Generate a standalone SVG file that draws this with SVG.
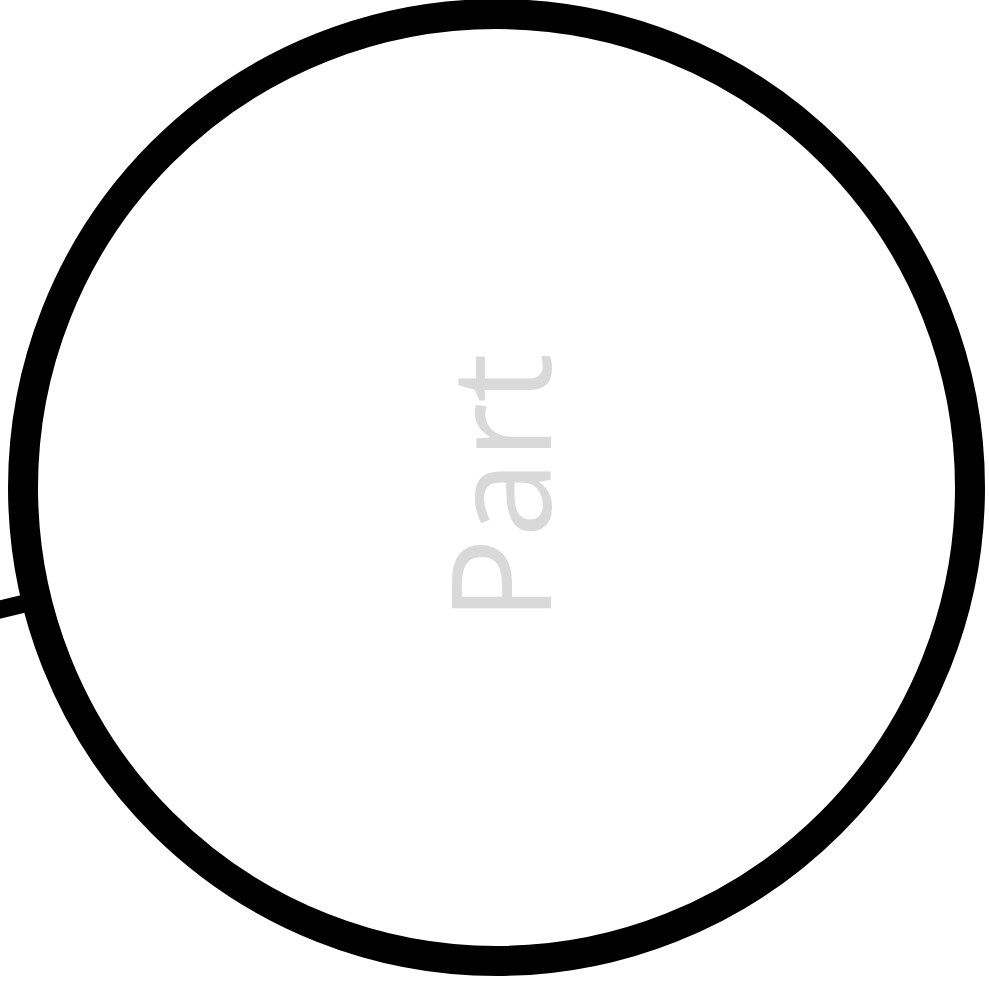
<svg xmlns="http://www.w3.org/2000/svg" width="989" height="985" viewBox="0 0 989 985">
  <style>
    .node-shape { fill: #ffffff; stroke: #000000; stroke-width: 30; }
    .node-label { font-family: "Open Sans", "Noto Sans", sans-serif; font-size: 140px; fill: #d9d9d9; text-anchor: middle; }
    .connector { stroke: #000000; stroke-width: 18; fill: none; }
  </style>
  <rect width="989" height="985" fill="#ffffff"/>
  <g id="connectors">
    <line class="connector" x1="-20" y1="614.4" x2="40" y2="599.7"/>
  </g>
  <g id="part">
    <circle class="node-shape" cx="496.5" cy="487.5" r="473.5"/>
    <text class="node-label" transform="translate(550.7,487.5) rotate(-90)" x="0" y="0">Part</text>
  </g>
</svg>
